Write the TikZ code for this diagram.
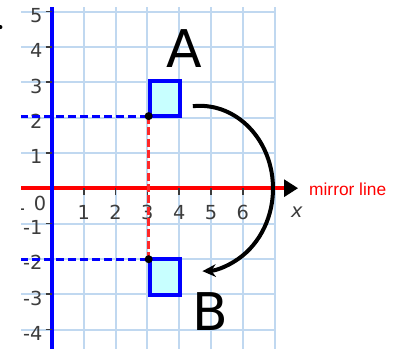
\documentclass[tikz,border=0pt]{standalone}
\usepackage{fontspec}
\setmainfont{DejaVu Sans}
\newfontfamily\arialfont{Liberation Sans}
\usepackage{xcolor}
\usepackage{tikz}
\usetikzlibrary{arrows.meta,calc}
\definecolor{gridblue}{RGB}{192,216,240}
\definecolor{sqfill}{RGB}{200,255,255}
\definecolor{dashred}{RGB}{255,40,40}
\definecolor{labgray}{RGB}{60,60,60}

\begin{document}
\begin{tikzpicture}[x=23.85pt, y=26.5pt,
  gridline/.style={gridblue, line width=1.5pt},
  tickmark/.style={labgray, line width=1.3pt},
  ticklab/.style={font=\fontsize{14.5}{16}\selectfont, text=labgray, inner sep=0pt},
  biglab/.style={font=\fontsize{39}{46}\selectfont, inner sep=0pt},
  sqbox/.style={draw=blue, fill=sqfill, line width=3pt},
  dot/.style={circle, fill=black, inner sep=0pt, minimum size=6pt},
  bluedash/.style={blue, line width=2.2pt, dash pattern=on 6pt off 3pt},
  reddash/.style={dashred, line width=1.9pt, dash pattern=on 6pt off 2.5pt},
  swing/.style={black, line width=3pt, -{Stealth[length=10pt,width=9.5pt]}}]
  % frame: 403x348 px, origin of the axes at px (52,188)
  \useasboundingbox (-1.635,-4.533) rectangle (11.038,5.326);
  % bullet cut off at the left edge
  \fill (-1.62,4.56) circle (1.5pt);
  \begin{scope}
    \clip (-0.97,-4.6) rectangle (11.1,5.4);
    % grid
    \foreach \i in {-1,...,7}
      \draw[gridline] (\i,-4.6) -- (\i,5.13);
    \foreach \j in {-4,...,5}
      \draw[gridline] (-1,\j) -- (7,\j);
    % axes
    \coordinate (xstart) at (-1,0);
    \coordinate (xend) at (7.74,0);
    \draw[red, line width=3pt, -{Triangle[black,length=10.5pt,width=12.5pt]}] (xstart) -- (xend);
    \draw[blue, line width=2.6pt] (0,-4.6) -- (0,5.13);
    \foreach \i in {1,...,6} {
      \draw[tickmark] (\i,0) -- (\i,-0.2);
      \node[ticklab] at (\i,-0.68) {\i};
    }
    \foreach \j in {-4,-3,-2,-1,1,2,3,4,5} {
      \draw[tickmark] (-0.2,\j) -- (0,\j);
      \node[ticklab, anchor=east] at (-0.29,{\j-0.11}) {\j};
    }
    \node[ticklab] at (-0.38,-0.43) {0};
    \node[ticklab] at (-1.12,-0.43) {-1};
    \node[ticklab, font=\fontsize{14.5}{16}\selectfont\itshape] at (7.70,-0.67) {x};
    \node[red, anchor=west, inner sep=0pt, font=\arialfont\fontsize{13}{15}\selectfont] (mirror) at (8.08,-0.03) {mirror line};
    % projections of the corner
    \coordinate (pA) at (3.04,2.04);
    \coordinate (pB) at (3.04,-2.01);
    \coordinate (lA) at (-1,2.04);
    \coordinate (lB) at (-1,-2.01);
    \draw[bluedash] (lA) -- (pA);
    \draw[bluedash] (lB) -- (pB);
    \draw[reddash] (pA) -- (pB);
    % object and image
    \draw[sqbox] (3.08,2.04) rectangle (4.03,3.03);
    \draw[sqbox] (3.08,-2.01) rectangle (4.03,-3.03);
    \node[dot] (dotA) at (pA) {};
    \node[dot] (dotB) at (pB) {};
    \node[biglab] (labA) at (4.15,3.94) {A};
    \node[biglab] (labB) at (4.97,-3.48) {B};
    % reflection arrow
    \coordinate (arcA) at (4.43,2.32);
    \draw[swing] (arcA) arc[start angle=95.5, end angle=-88, x radius=2.30, y radius=2.34];
  \end{scope}
\end{tikzpicture}
\end{document}
